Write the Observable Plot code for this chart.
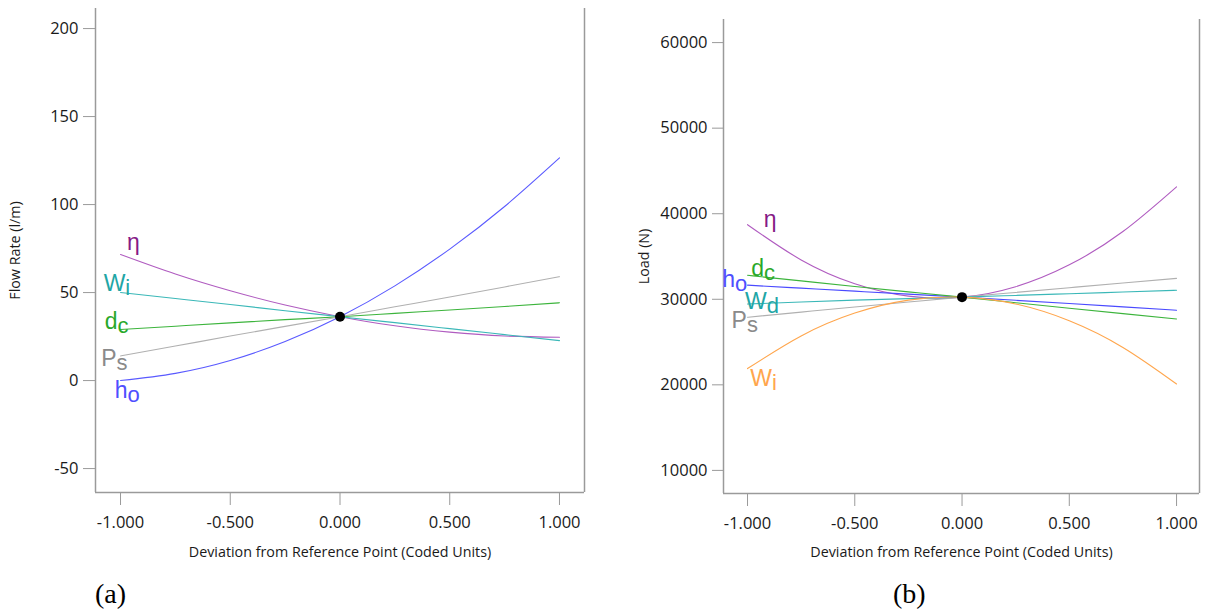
<!DOCTYPE html>
<html><head><meta charset="utf-8">
<script src="https://cdn.jsdelivr.net/npm/d3@7"></script>
<script src="https://cdn.jsdelivr.net/npm/@observablehq/plot@0.6"></script>
<style>
body{margin:0;background:#fff;}
#wrap{position:relative;width:1205px;height:614px;overflow:hidden;background:#fff}
.panel{position:absolute;top:0}
.cap{position:absolute;font-family:"Liberation Serif",serif;font-size:28px;color:#000;line-height:1}
svg [aria-label$="-axis tick"]{stroke:#9a9a9a}
svg [aria-label$="-axis label"]{font-size:14.3px}
</style></head><body>
<div id="wrap">
  <div class="panel" id="pa" style="left:0"></div>
  <div class="panel" id="pb" style="left:600px"></div>
  <div class="cap" style="left:95px;top:580px">(a)</div>
  <div class="cap" style="left:893px;top:580px">(b)</div>
</div>
<script>
// ---------- data ----------
const xCoded = [-1, -0.75, -0.5, -0.25, 0, 0.25, 0.5, 0.75, 1];
const xTicks = [-1, -0.5, 0, 0.5, 1];

// (a) Flow Rate (l/m)
const flowEta = [71.6, 60.5, 51.0, 42.9, 36.3, 31.1, 27.5, 25.3, 24.6];
const flowWi  = [50.0, 46.6, 43.2, 39.7, 36.3, 32.9, 29.5, 26.1, 22.7];
const flowDc  = [29.0, 30.9, 32.8, 34.6, 36.3, 38.2, 40.1, 42.1, 44.2];
const flowPs  = [14.0, 19.6, 25.3, 30.8, 36.3, 41.9, 47.5, 53.2, 59.0];
const flowHo  = [0.0, 4.1, 11.4, 22.2, 36.3, 53.8, 74.7, 98.9, 126.5];
const flowTicks = [-50, 0, 50, 100, 150, 200];
const flowRef = 36.3;

// (b) Load (N)
const loadEta = [38720, 34600, 31815, 30366, 30250, 31470, 34025, 37915, 43140];
const loadDc  = [32800, 32150, 31500, 30870, 30250, 29600, 28950, 28320, 27700];
const loadHo  = [31650, 31300, 30950, 30600, 30250, 29880, 29500, 29110, 28720];
const loadWd  = [29450, 29680, 29900, 30080, 30250, 30450, 30650, 30850, 31050];
const loadPs  = [27900, 28500, 29100, 29680, 30250, 30800, 31350, 31900, 32440];
const loadWi  = [21900, 25720, 28390, 29900, 30250, 29450, 27490, 24370, 20100];
const loadTicks = [10000, 20000, 30000, 40000, 50000, 60000];
const loadRef = 30250;

// series labels: base letter + subscript, anchored in data units
const flowLabels = [
  {key: "eta", base: "η", sub: "", x: -0.912, y: 74.4},
  {key: "Wi",  base: "W", sub: "i", x: -0.978, y: 51.1},
  {key: "dc",  base: "d", sub: "c", x: -1.014, y: 29.5},
  {key: "Ps",  base: "P", sub: "s", x: -1.018, y: 8.5},
  {key: "ho",  base: "h", sub: "o", x: -0.968, y: -9.7}
];
const loadLabels = [
  {key: "eta", base: "η", sub: "", x: -0.865, y: 38490},
  {key: "dc",  base: "d", sub: "c", x: -0.923, y: 32670},
  {key: "ho",  base: "h", sub: "o", x: -1.058, y: 31450},
  {key: "Wd",  base: "W", sub: "d", x: -0.910, y: 28900},
  {key: "Ps",  base: "P", sub: "s", x: -1.003, y: 26630},
  {key: "Wi",  base: "W", sub: "i", x: -0.886, y: 19880}
];

// ---------- styles ----------
const lineColorA = {eta: "#b05cc0", Wi: "#3bb8b8", dc: "#3cb43c", Ps: "#b0b0b0", ho: "#5a5aff"};
const textColorA = {eta: "#861a86", Wi: "#1fa6a6", dc: "#2aa82a", Ps: "#8a8a8a", ho: "#4f4fff"};
const lineColorB = {eta: "#b05cc0", dc: "#3cb43c", ho: "#4a4aff", Wd: "#3bb8b8", Ps: "#b0b0b0", Wi: "#ffa64d"};
const textColorB = {eta: "#861a86", dc: "#2aa82a", ho: "#4f4fff", Wd: "#1fa6a6", Ps: "#8a8a8a", Wi: "#ffa64d"};

function rowsOf(series) {
  return series.flatMap(([key, vals]) => vals.map((v, i) => ({key, x: xCoded[i], y: v})));
}

function panel(cfg) {
  const rows = rowsOf(cfg.series);
  const frame = "#9a9a9a";
  return Plot.plot({
    width: cfg.width, height: 570,
    marginLeft: cfg.ml, marginRight: cfg.mr, marginTop: cfg.mt, marginBottom: cfg.mb,
    style: {fontFamily: "'Open Sans', sans-serif", fontSize: "16.5px", color: "#1a1a1a", background: "#fff", overflow: "visible"},
    x: {domain: cfg.xDom},
    y: {domain: cfg.yDom},
    color: {type: "identity"},
    marks: [
      Plot.ruleX([cfg.xDom[0], cfg.xDom[1]], {stroke: frame, strokeWidth: 1.5}),
      Plot.ruleY([cfg.yDom[0]], {stroke: frame, strokeWidth: 1.5}),
      Plot.axisY({ticks: cfg.yTicks, tickFormat: d => String(d), tickSize: cfg.tsY, tickPadding: 5,
        label: cfg.yLabel, labelAnchor: "center", labelArrow: "none", labelOffset: cfg.yLabOff}),
      Plot.axisX({ticks: xTicks, tickFormat: d => d.toFixed(3), tickSize: 13, tickPadding: 11,
        label: "Deviation from Reference Point (Coded Units)", labelAnchor: "center", labelArrow: "none", labelOffset: cfg.xLabOff}),
      Plot.line(rows, {x: "x", y: "y", z: "key", stroke: d => cfg.lineColor[d.key], strokeWidth: 1.1, curve: "natural"}),
      Plot.text(cfg.labels, {x: "x", y: "y", text: "base", textAnchor: "end", lineAnchor: "bottom",
        fill: d => cfg.textColor[d.key], fontFamily: "'Liberation Sans', Arial, sans-serif", fontSize: 23}),
      Plot.text(cfg.labels.filter(d => d.sub), {x: "x", y: "y", text: "sub", textAnchor: "start", lineAnchor: "bottom", dy: 4,
        fill: d => cfg.textColor[d.key], fontFamily: "'Liberation Sans', Arial, sans-serif", fontSize: 22}),
      Plot.dot([{x: 0, y: cfg.ref}], {x: "x", y: "y", r: 5, fill: "#000", stroke: "none"})
    ]
  });
}

document.getElementById("pa").append(panel({
  width: 600, ml: 95, mr: 16, mt: 8, mb: 78,
  xDom: [-1.114, 1.114], yDom: [-63.6, 211.4], yTicks: flowTicks, tsY: 12,
  yLabel: "Flow Rate (l/m)", yLabOff: 86, xLabOff: 64,
  series: [["eta", flowEta], ["Wi", flowWi], ["dc", flowDc], ["Ps", flowPs], ["ho", flowHo]],
  lineColor: lineColorA, textColor: textColorA, labels: flowLabels, ref: flowRef
}));

document.getElementById("pb").append(panel({
  width: 605, ml: 123, mr: 6, mt: 19, mb: 77,
  xDom: [-1.112, 1.107], yDom: [7300, 62700], yTicks: loadTicks, tsY: 11,
  yLabel: "Load (N)", yLabOff: 85, xLabOff: 63,
  series: [["eta", loadEta], ["Ps", loadPs], ["Wd", loadWd], ["ho", loadHo], ["dc", loadDc], ["Wi", loadWi]],
  lineColor: lineColorB, textColor: textColorB, labels: loadLabels, ref: loadRef
}));
</script>
</body></html>
